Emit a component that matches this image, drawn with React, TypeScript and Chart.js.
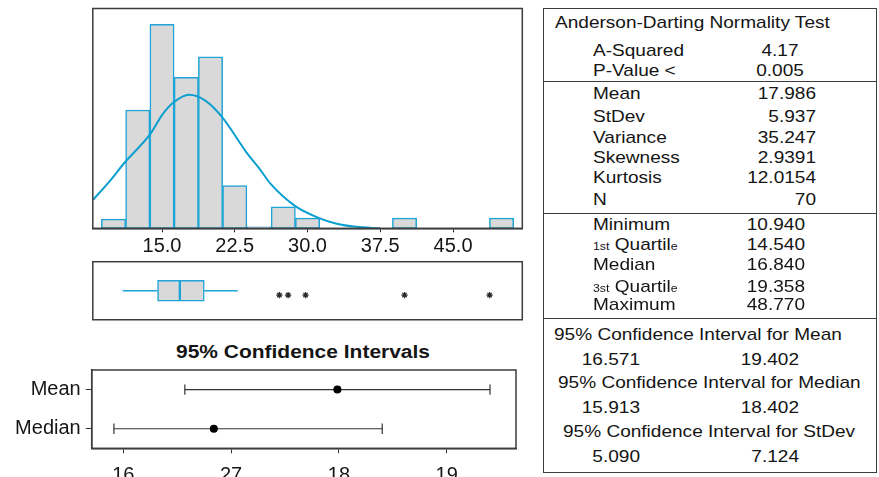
import React, { useEffect, useRef } from 'react';
import { Chart, registerables } from 'chart.js';

Chart.register(...registerables);

const FONT = '"Liberation Sans", Arial, Helvetica, sans-serif';
Chart.defaults.font.family = FONT;

// ---------- Histogram data ----------
const BIN_CENTERS = [10, 12.5, 15, 17.5, 20, 22.5, 25, 27.5, 30, 40, 50];
const BIN_COUNTS = [0.9, 11.6, 20, 14.8, 16.8, 4.2, 0.15, 2.1, 1, 1, 1];
const HIST_TICKS = [15, 22.5, 30, 37.5, 45];
const CURVE_X = [7.9, 9.5, 11.2, 13.8, 15, 16.2, 17.8, 19.5, 21.2, 23.7, 25, 26.2, 28.7, 31.2, 33, 35, 37.5];
const CURVE_Y = [2.8, 4.5, 6.5, 9.25, 11.1, 12.35, 13.1, 12.5, 10.9, 7.45, 5.9, 4.35, 2.2, 1.0, 0.45, 0.15, 0];

// ---------- Boxplot data ----------
const BOX_LOW = 10.94;
const BOX_Q1 = 14.54;
const BOX_MEDIAN = 16.84;
const BOX_Q3 = 19.358;
const BOX_HIGH = 22.8;
const OUTLIERS = [27.1, 28.0, 29.8, 40.0, 48.77];

// ---------- Confidence interval data ----------
const CI_ROWS = ['Mean', 'Median'];
const CI_LOW = [16.571, 15.913];
const CI_HIGH = [19.402, 18.402];
const CI_EST = [17.986, 16.84];
const CI_TICKS = [16, 17, 18, 19];
const CI_TICK_LABELS = ['16', '27', '18', '19'];

// ---------- Summary table ----------
const AD_LABELS = ['A-Squared', 'P-Value <'];
const AD_VALUES = ['4.17', '0.005'];
const MOMENT_LABELS = ['Mean', 'StDev', 'Variance', 'Skewness', 'Kurtosis', 'N'];
const MOMENT_VALUES = ['17.986', '5.937', '35.247', '2.9391', '12.0154', '70'];
const QUANT_VALUES = ['10.940', '14.540', '16.840', '19.358', '48.770'];
const CI_HEADERS = ['95% Confidence Interval for Mean', '95% Confidence Interval for Median', '95% Confidence Interval for StDev'];
const CI_TABLE_LOW = ['16.571', '15.913', '5.090'];
const CI_TABLE_HIGH = ['19.402', '18.402', '7.124'];

const BLUE = '#1ea4d6';
const CURVE_BLUE = '#0b9fd0';
const GRAY = '#d9d9d9';
const FRAME = '#3c3c3c';
const TEXT = '#151515';

const framePlugin = {
  id: 'frameBox',
  afterDatasetsDraw(chart: any) {
    const { ctx, chartArea } = chart;
    const { left, top, right, bottom } = chartArea;
    ctx.save();
    ctx.strokeStyle = FRAME;
    ctx.lineWidth = 1.5;
    ctx.strokeRect(left, top, right - left, bottom - top);
    ctx.restore();
  },
};

function ChartBox({ left, top, width, height, make }: any) {
  const ref = useRef<HTMLCanvasElement>(null);
  useEffect(() => {
    const chart = new Chart(ref.current as HTMLCanvasElement, make());
    return () => chart.destroy();
  }, []);
  return (
    <div style={{ position: 'absolute', left, top, width, height }}>
      <canvas ref={ref} width={width} height={height} style={{ width, height, display: 'block' }} />
    </div>
  );
}

const HX_MIN = 7.866;
const HX_MAX = 52.14;

function histConfig(): any {
  return {
    type: 'scatter',
    data: {
      datasets: [
        {
          type: 'line',
          data: CURVE_X.map((x, i) => ({ x, y: CURVE_Y[i] })),
          borderColor: CURVE_BLUE,
          borderWidth: 2,
          pointRadius: 0,
          cubicInterpolationMode: 'monotone',
          fill: false,
          order: 0,
        },
        {
          type: 'bar',
          data: BIN_CENTERS.map((x, i) => ({ x, y: BIN_COUNTS[i] })),
          backgroundColor: GRAY,
          borderColor: BLUE,
          borderWidth: 1.5,
          borderSkipped: false,
          barPercentage: 1,
          categoryPercentage: 1,
          order: 1,
        },
      ],
    },
    options: {
      animation: false,
      responsive: false,
      maintainAspectRatio: false,
      layout: { padding: { left: 12.8, right: 17.7, top: 8.5, bottom: 0 } },
      plugins: { legend: { display: false }, tooltip: { enabled: false }, title: { display: false } },
      scales: {
        x: {
          type: 'linear',
          min: HX_MIN,
          max: HX_MAX,
          offset: false,
          afterBuildTicks: (s: any) => { s.ticks = HIST_TICKS.map((value) => ({ value })); },
          afterFit: (s: any) => { s.height = 31.7; s.paddingLeft = 0; s.paddingRight = 0; },
          grid: { display: true, drawOnChartArea: false, drawTicks: true, tickLength: 4, color: '#222', offset: false },
          border: { display: true, color: '#222', width: 1.5 },
          ticks: {
            font: { size: 20 },
            color: TEXT,
            padding: 2,
            maxRotation: 0,
            autoSkip: false,
            callback: (v: any) => Number(v).toFixed(1),
          },
        },
        y: { type: 'linear', min: 0, max: 21.55, display: false },
      },
    },
    plugins: [framePlugin],
  };
}

function boxConfig(): any {
  const ROW = 1;
  const STAR_ROW = 0.85;
  return {
    type: 'scatter',
    data: {
      datasets: [
        {
          type: 'bar',
          indexAxis: 'y',
          data: [
            { x: [BOX_Q1, BOX_MEDIAN], y: ROW },
            { x: [BOX_MEDIAN, BOX_Q3], y: ROW },
          ],
          backgroundColor: GRAY,
          borderColor: BLUE,
          borderWidth: 1.5,
          borderSkipped: false,
          barThickness: 21,
          order: 2,
        },
        {
          type: 'scatter',
          showLine: true,
          data: [{ x: BOX_LOW, y: ROW }, { x: BOX_Q1, y: ROW }],
          borderColor: BLUE,
          borderWidth: 1.5,
          pointRadius: 0,
          order: 1,
        },
        {
          type: 'scatter',
          showLine: true,
          data: [{ x: BOX_Q3, y: ROW }, { x: BOX_HIGH, y: ROW }],
          borderColor: BLUE,
          borderWidth: 1.5,
          pointRadius: 0,
          order: 1,
        },
        {
          type: 'scatter',
          data: OUTLIERS.map((x) => ({ x, y: STAR_ROW })),
          pointStyle: 'star',
          pointRadius: 3.1,
          pointBorderColor: '#2a2a2a',
          pointBackgroundColor: '#2a2a2a',
          pointBorderWidth: 1.25,
          order: 0,
        },
      ],
    },
    options: {
      animation: false,
      responsive: false,
      maintainAspectRatio: false,
      layout: { padding: { left: 12.8, right: 17.7, top: 6.7, bottom: 4.7 } },
      plugins: { legend: { display: false }, tooltip: { enabled: false } },
      scales: {
        x: { type: 'linear', min: HX_MIN, max: HX_MAX, display: false, offset: false },
        y: { type: 'linear', min: 0, max: 2, display: false, offset: false },
      },
    },
    plugins: [framePlugin],
  };
}

function ciConfig(): any {
  const datasets: any[] = [];
  CI_ROWS.forEach((row, i) => {
    datasets.push({
      type: 'scatter',
      showLine: true,
      data: [{ x: CI_LOW[i], y: row }, { x: CI_HIGH[i], y: row }],
      borderColor: '#333',
      borderWidth: 1.2,
      pointStyle: 'line',
      rotation: 90,
      pointRadius: 5.2,
      pointBorderColor: '#333',
      pointBorderWidth: 1.2,
      order: 1,
    });
  });
  datasets.push({
    type: 'scatter',
    data: CI_ROWS.map((row, i) => ({ x: CI_EST[i], y: row })),
    pointStyle: 'circle',
    pointRadius: 4,
    pointBackgroundColor: '#000',
    pointBorderColor: '#000',
    pointBorderWidth: 0,
    order: 0,
  });
  return {
    type: 'scatter',
    data: { datasets },
    options: {
      animation: false,
      responsive: false,
      maintainAspectRatio: false,
      layout: { padding: { left: 0, right: 24, top: 8, bottom: 0 } },
      plugins: { legend: { display: false }, tooltip: { enabled: false } },
      scales: {
        x: {
          type: 'linear',
          min: 15.707,
          max: 19.643,
          offset: false,
          afterBuildTicks: (s: any) => { s.ticks = CI_TICKS.map((value) => ({ value })); },
          afterFit: (s: any) => { s.height = 28.7; s.paddingLeft = 0; s.paddingRight = 0; },
          grid: { display: true, drawOnChartArea: false, drawTicks: true, tickLength: 5, color: '#333', offset: false },
          border: { display: true, color: '#333', width: 1.5 },
          ticks: {
            font: { size: 20 },
            color: TEXT,
            padding: 10,
            maxRotation: 0,
            autoSkip: false,
            callback: (v: any) => CI_TICK_LABELS[CI_TICKS.indexOf(Number(v))],
          },
        },
        y: {
          type: 'category',
          labels: CI_ROWS,
          offset: true,
          afterFit: (s: any) => { s.width = 91.7; s.paddingTop = 0; s.paddingBottom = 0; },
          grid: { display: true, drawOnChartArea: false, drawTicks: true, tickLength: 6, color: '#333', offset: false },
          border: { display: true, color: '#333', width: 1.5 },
          ticks: { font: { size: 20 }, color: TEXT, padding: 5 },
        },
      },
    },
    plugins: [framePlugin],
  };
}

const SX = 1.12;

function Txt({ x, y, children, align = 'left', size = 17, bold = false, sx = SX }: any) {
  const style: any = {
    position: 'absolute',
    top: y - 10,
    left: x,
    lineHeight: '20px',
    fontSize: size,
    fontWeight: bold ? 'bold' : 'normal',
    whiteSpace: 'nowrap',
    fontFamily: FONT,
    color: TEXT,
  };
  if (align === 'left') {
    style.transformOrigin = 'left center';
    style.transform = `scaleX(${sx})`;
  } else if (align === 'right') {
    style.transformOrigin = 'right center';
    style.transform = `translateX(-100%) scaleX(${sx})`;
  } else {
    style.transformOrigin = 'center center';
    style.transform = `translateX(-50%) scaleX(${sx})`;
  }
  return <div style={style}>{children}</div>;
}

function HLine({ x1, x2, y }: any) {
  return <div style={{ position: 'absolute', left: x1, top: y - 0.75, width: x2 - x1, height: 1.5, background: FRAME }} />;
}

function Table() {
  const L = 544, R = 876, T = 8.7, B = 472;
  const small = { fontSize: 11 };
  const momentY = [94, 116.5, 137.5, 157.5, 178, 200];
  const quantY = [225, 245, 264.7, 286.7, 305];
  const quantLabels = [
    'Minimum',
    <span key="q1"><span style={small}>1st</span> Quartil<span style={small}>e</span></span>,
    'Median',
    <span key="q3"><span style={small}>3st</span> Quartil<span style={small}>e</span></span>,
    'Maximum',
  ];
  const ciHeadX = [554, 558, 563];
  const ciHeadY = [335, 383.3, 431.7];
  const ciValY = [360, 408.3, 456.7];
  return (
    <>
      <div style={{ position: 'absolute', left: L - 0.75, top: T - 0.75, width: R - L, height: B - T, border: `1.5px solid ${FRAME}` }} />
      <HLine x1={L} x2={R} y={81.7} />
      <HLine x1={L} x2={R} y={213.3} />
      <HLine x1={L} x2={R} y={318.3} />
      <Txt x={555} y={23.3}>Anderson-Darting Normality Test</Txt>
      {AD_LABELS.map((t, i) => <Txt key={'adl' + i} x={593} y={[51.2, 71.2][i]}>{t}</Txt>)}
      {AD_VALUES.map((t, i) => <Txt key={'adv' + i} x={780} y={[51.2, 71.2][i]} align="center">{t}</Txt>)}
      {MOMENT_LABELS.map((t, i) => <Txt key={'ml' + i} x={593} y={momentY[i]}>{t}</Txt>)}
      {MOMENT_VALUES.map((t, i) => <Txt key={'mv' + i} x={816} y={momentY[i]} align="right">{t}</Txt>)}
      {quantLabels.map((t, i) => <Txt key={'ql' + i} x={593} y={quantY[i]}>{t}</Txt>)}
      {QUANT_VALUES.map((t, i) => <Txt key={'qv' + i} x={805} y={quantY[i]} align="right">{t}</Txt>)}
      {CI_HEADERS.map((t, i) => <Txt key={'ch' + i} x={ciHeadX[i]} y={ciHeadY[i]}>{t}</Txt>)}
      {CI_TABLE_LOW.map((t, i) => <Txt key={'cl' + i} x={640} y={ciValY[i]} align="right">{t}</Txt>)}
      {CI_TABLE_HIGH.map((t, i) => <Txt key={'chv' + i} x={799} y={ciValY[i]} align="right">{t}</Txt>)}
    </>
  );
}

export default function App() {
  return (
    <div style={{ position: 'absolute', left: 0, top: 0, width: 879, height: 477, overflow: 'hidden', background: '#fff' }}>
      <ChartBox left={80} top={0} width={460} height={260} make={histConfig} />
      <ChartBox left={80} top={255} width={460} height={70} make={boxConfig} />
      <Txt x={303} y={351.7} align="center" size={18} bold sx={1.165}>95% Confidence Intervals</Txt>
      <ChartBox left={0} top={362} width={540} height={115} make={ciConfig} />
      <Table />
    </div>
  );
}
